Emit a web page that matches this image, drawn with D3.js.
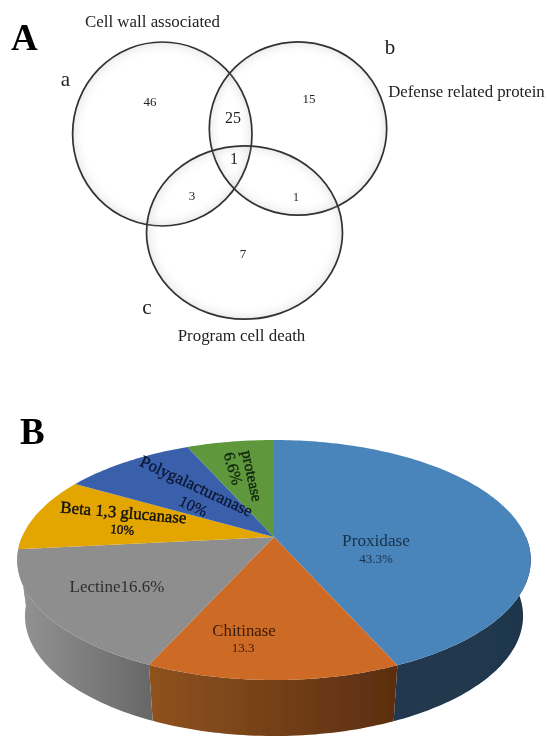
<!DOCTYPE html>
<html>
<head>
<meta charset="utf-8">
<script src="https://cdn.jsdelivr.net/npm/d3@7"></script>
<style>
  html, body { margin: 0; padding: 0; background: #fff; overflow: hidden; }
  text { font-family: "Liberation Serif", serif; }
</style>
</head>
<body>
<div id="chart"></div>
<script>
// venn data
const setNames = ["Cell wall associated", "Defense related protein", "Program cell death"];
const setLetters = ["a", "b", "c"];
const regionCounts = [46, 15, 7, 25, 3, 1, 1];

// pie data
const enzymes = ["Proxidase", "Chitinase", "Lectine", "Beta 1,3 glucanase", "Polygalacturanase", "protease"];
const shares = [43.3, 13.3, 16.6, 10, 10, 6.6];
const shareLabels = ["43.3%", "13.3", "16.6%", "10%", "10%", "6.6%"];

const topColors = ["#4a84ba", "#cd6a26", "#8e8e8e", "#e3a502", "#3a61ab", "#5f973d"];
// the wall under the yellow slice is only a sliver at the left edge and reads as grey
const sideFrom = ["#21394f", "#8f521f", "#949494", "#949494", "#2a4679", "#44692b"];
const sideTo = ["#1f364c", "#5a2e10", "#686868", "#949494", "#2a4679", "#44692b"];

const svg = d3.select("#chart")
  .append("svg")
  .attr("width", 547)
  .attr("height", 736);

const defs = svg.append("defs");

const soft = defs.append("filter").attr("id", "soft");
soft.append("feGaussianBlur").attr("stdDeviation", 0.35);

const glow = defs.append("radialGradient").attr("id", "glow");
glow.append("stop").attr("offset", "85%").attr("stop-color", "#fff").attr("stop-opacity", 0);
glow.append("stop").attr("offset", "100%").attr("stop-color", "#999").attr("stop-opacity", 0.2);

const root = svg.append("g").attr("filter", "url(#soft)");

// ---- A: venn ----
const venn = [
  { cx: 162.3, cy: 134, rx: 89.7, ry: 92 },
  { cx: 298, cy: 128.5, rx: 88.7, ry: 86.7 },
  { cx: 244.5, cy: 232.5, rx: 98, ry: 86.7 }
];

root.append("g")
  .selectAll("ellipse")
  .data(venn)
  .join("ellipse")
  .attr("cx", d => d.cx)
  .attr("cy", d => d.cy)
  .attr("rx", d => d.rx)
  .attr("ry", d => d.ry)
  .attr("fill", "url(#glow)")
  .attr("stroke", "#333")
  .attr("stroke-width", 1.7);

const setNamePos = [
  { x: 152.5, y: 27, size: 16.9 },
  { x: 466.5, y: 97, size: 16.8 },
  { x: 241.5, y: 341, size: 16.9 }
];
const setLetterPos = [
  { x: 65.5, y: 86 },
  { x: 390, y: 54 },
  { x: 147, y: 314 }
];
const regionPos = [
  { x: 150, y: 106, size: 13 },
  { x: 309, y: 103, size: 13 },
  { x: 243, y: 258, size: 13 },
  { x: 233, y: 123, size: 16 },
  { x: 192, y: 200, size: 13 },
  { x: 234, y: 164, size: 16 },
  { x: 296, y: 201, size: 12 }
];

root.append("g")
  .selectAll("text")
  .data(setNames)
  .join("text")
  .attr("x", (d, i) => setNamePos[i].x)
  .attr("y", (d, i) => setNamePos[i].y)
  .attr("font-size", (d, i) => setNamePos[i].size)
  .attr("text-anchor", "middle")
  .attr("fill", "#222")
  .text(d => d);

root.append("g")
  .selectAll("text")
  .data(setLetters)
  .join("text")
  .attr("x", (d, i) => setLetterPos[i].x)
  .attr("y", (d, i) => setLetterPos[i].y)
  .attr("font-size", 21)
  .attr("text-anchor", "middle")
  .attr("fill", "#222")
  .text(d => d);

root.append("g")
  .selectAll("text")
  .data(regionCounts)
  .join("text")
  .attr("x", (d, i) => regionPos[i].x)
  .attr("y", (d, i) => regionPos[i].y)
  .attr("font-size", (d, i) => regionPos[i].size)
  .attr("text-anchor", "middle")
  .attr("fill", "#222")
  .text(d => d);

root.append("text")
  .attr("x", 11).attr("y", 50)
  .attr("font-size", 37).attr("font-weight", "bold")
  .text("A");

// ---- B: tilted pie ----
// the disc is seen in perspective, so the apex sits above the middle of the ellipse
const apex = { x: 274, y: 537 };
const tilt = -0.1917;
const spreadX = 252;
const spreadY = 115.6;
const depth = 56;
const bottomScale = 0.97;

function rim(angle, lower) {
  const u = Math.sin(angle);
  const v = -Math.cos(angle);
  const w = 1 + tilt * v;
  const s = lower ? bottomScale : 1;
  return [
    apex.x + s * spreadX * u / w,
    apex.y + spreadY * v / w + (lower ? depth : 0)
  ];
}

function arcPoints(a0, a1, lower) {
  const n = Math.max(2, Math.ceil((a1 - a0) / 0.02));
  return d3.range(n + 1).map(k => rim(a0 + (a1 - a0) * k / n, lower));
}

const slices = d3.pie().sort(null)(shares);
const line = d3.line();
const pieGroup = root.append("g");

// only the front half of the wall can be seen
const frontStart = Math.PI / 2;
const frontEnd = Math.PI * 3 / 2;
const walls = slices
  .map((d, i) => ({
    index: i,
    a0: Math.max(d.startAngle, frontStart),
    a1: Math.min(d.endAngle, frontEnd)
  }))
  .filter(d => d.a1 > d.a0);

walls.forEach(d => {
  const xs = arcPoints(d.a0, d.a1, false).map(p => p[0]);
  const grad = defs.append("linearGradient")
    .attr("id", "side" + d.index)
    .attr("gradientUnits", "userSpaceOnUse")
    .attr("x1", d3.min(xs))
    .attr("x2", d3.max(xs))
    .attr("y1", 0)
    .attr("y2", 0);
  grad.append("stop").attr("offset", "0%").attr("stop-color", sideFrom[d.index]);
  grad.append("stop").attr("offset", "100%").attr("stop-color", sideTo[d.index]);
});

pieGroup.selectAll("path.side")
  .data(walls)
  .join("path")
  .attr("class", "side")
  .attr("fill", d => `url(#side${d.index})`)
  .attr("d", d => line(
    arcPoints(d.a0, d.a1, false)
      .concat(arcPoints(d.a0, d.a1, true).reverse())
  ) + "Z");

pieGroup.selectAll("path.top")
  .data(slices)
  .join("path")
  .attr("class", "top")
  .attr("fill", (d, i) => topColors[i])
  .attr("d", d => line(
    [[apex.x, apex.y]].concat(arcPoints(d.startAngle, d.endAngle, false))
  ) + "Z");

root.append("text")
  .attr("x", 20).attr("y", 444)
  .attr("font-size", 37).attr("font-weight", "bold")
  .text("B");

const nameStyle = [
  { x: 376, y: 546, size: 17.2, rot: 0, color: "#16304a", heavy: 0 },
  { x: 244, y: 636, size: 16.8, rot: 0, color: "#3a1a08", heavy: 0 },
  { x: 117, y: 592, size: 17, rot: 0, color: "#2e2e2e", heavy: 0 },
  { x: 123, y: 518, size: 16.8, rot: 5, color: "#111", heavy: 0.4 },
  { x: 194, y: 491, size: 16.8, rot: 25, color: "#0a1430", heavy: 0.3 },
  { x: 247, y: 477, size: 15.5, rot: 78, color: "#10240c", heavy: 0.4 }
];
const shareStyle = [
  { x: 376, y: 563, size: 13, rot: 0, color: "#16304a", heavy: 0 },
  { x: 243, y: 652, size: 13, rot: 0, color: "#3a1a08", heavy: 0 },
  null,
  { x: 122, y: 534, size: 13, rot: 5, color: "#111", heavy: 0.4 },
  { x: 191, y: 511, size: 16, rot: 25, color: "#0a1430", heavy: 0.2 },
  { x: 228, y: 470, size: 16, rot: 74, color: "#10240c", heavy: 0.3 }
];

function placeLabels(names, styles) {
  const rows = names.map((name, i) => ({ name: name, style: styles[i] })).filter(d => d.style);
  root.append("g")
    .selectAll("text")
    .data(rows)
    .join("text")
    .attr("text-anchor", "middle")
    .attr("transform", d => `translate(${d.style.x},${d.style.y}) rotate(${d.style.rot})`)
    .attr("font-size", d => d.style.size)
    .attr("fill", d => d.style.color)
    .attr("stroke", d => d.style.color)
    .attr("stroke-width", d => d.style.heavy)
    .text(d => d.name);
}

// Lectine has its share on the same line
const nameLabels = enzymes.map((d, i) => i === 2 ? d + shareLabels[i] : d);
placeLabels(nameLabels, nameStyle);
placeLabels(shareLabels, shareStyle);
</script>
</body>
</html>
